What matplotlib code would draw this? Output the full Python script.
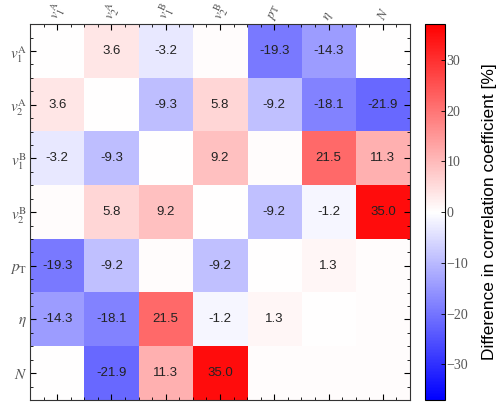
import numpy as np
import matplotlib
matplotlib.use("Agg")
import matplotlib.pyplot as plt
from matplotlib.ticker import MultipleLocator

plt.rcParams['mathtext.fontset'] = 'stix'

labels = [r'$v_1^{\rm A}$', r'$v_2^{\rm A}$', r'$v_1^{\rm B}$', r'$v_2^{\rm B}$',
          r'$p_{\rm T}$', r'$\eta$', r'$N$']

# rows top to bottom; unlabeled small values estimated from tint
values = np.array([
    [0.0,   3.6,  -3.2,  0.4, -19.3, -14.3,  0.0],
    [3.6,   0.0,  -9.3,  5.8,  -9.2, -18.1, -21.9],
    [-3.2, -9.3,   0.0,  9.2,   0.4,  21.5,  11.3],
    [0.4,   5.8,   9.2,  0.0,  -9.2,  -1.2,  35.0],
    [-19.3, -9.2,  0.4, -9.2,   0.0,   1.3,   0.5],
    [-14.3, -18.1, 21.5, -1.2,  1.3,   0.0,   0.3],
    [0.0,  -21.9, 11.3, 35.0,   0.5,   0.3,   0.4],
])
vlim = 37.0
cbar_ticks = [-30, -20, -10, 0, 10, 20, 30]
cbar_label = 'Difference in correlation coefficient [%]'

fig = plt.figure(figsize=(5.0, 4.05), dpi=100)
ax = fig.add_axes([0.06, 0.0123, 0.76, 0.928])
cax = fig.add_axes([0.85, 0.0123, 0.04, 0.928])

n = len(labels)
im = ax.imshow(values, cmap='bwr', vmin=-vlim, vmax=vlim, aspect='auto',
               interpolation='nearest')
for i in range(n):
    for j in range(n):
        v = values[i, j]
        if abs(v) >= 1.0:
            ax.text(j, i, f'{v:.1f}', ha='center', va='center', fontsize=9.5,
                    family='Liberation Sans', color='#222222')

ax.set_xticks(range(n))
ax.set_yticks(range(n))
ax.set_xticklabels(labels, rotation=65, fontsize=10, color='#555555')
ax.set_yticklabels(labels, fontsize=11, color='#555555')
ax.xaxis.set_minor_locator(MultipleLocator(0.25))
ax.yaxis.set_minor_locator(MultipleLocator(0.25))
ax.tick_params(axis='both', which='both', direction='in', top=True, right=True,
               labeltop=True, labelbottom=False)
ax.tick_params(which='major', length=4, width=0.8, pad=2)
ax.tick_params(axis='x', which='major', pad=1)
ax.tick_params(which='minor', length=2, width=0.6)
ax.set_xlim(-0.5, n - 0.5)
ax.set_ylim(n - 0.5, -0.5)
for s in ax.spines.values():
    s.set_linewidth(0.8)
    s.set_color('#333333')

cb = fig.colorbar(im, cax=cax, ticks=cbar_ticks)
cb.ax.tick_params(direction='in', length=3, width=0.6, labelsize=10, pad=1,
                  labelcolor='#555555')
for lab in cb.ax.get_yticklabels():
    lab.set_family('Liberation Serif')
cb.outline.set_linewidth(0.8)
cb.set_label(cbar_label, fontsize=12.5, family='Liberation Sans', labelpad=10)

fig.savefig('out.png', dpi=100)
